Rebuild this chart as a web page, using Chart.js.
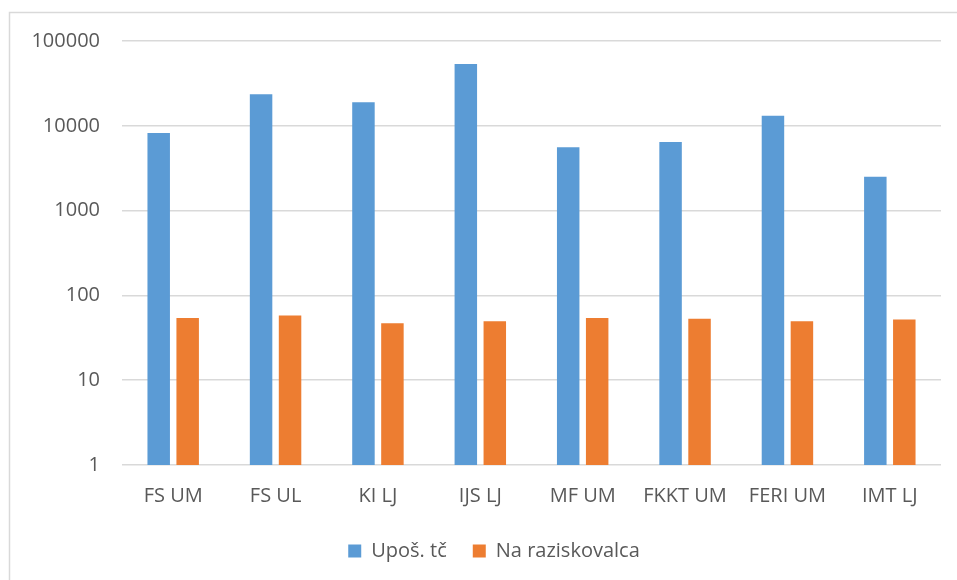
<!DOCTYPE html>
<html>
<head>
<meta charset="utf-8">
<script src="https://cdn.jsdelivr.net/npm/chart.js@4/dist/chart.umd.min.js"></script>
<style>
  html, body { margin: 0; padding: 0; background: #fff; }
  #wrap { width: 957px; height: 580px; position: relative; }
</style>
</head>
<body>
<div id="wrap"><canvas id="chart"></canvas></div>
<script>
var labels = ['FS UM', 'FS UL', 'KI LJ', 'IJS LJ', 'MF UM', 'FKKT UM', 'FERI UM', 'IMT LJ'];
var uposTc = [8200, 23600, 19000, 53500, 5600, 6450, 13100, 2500];
var naRaziskovalca = [54, 58, 47, 49.5, 54, 53, 49.5, 52];
var yTicks = [1, 10, 100, 1000, 10000, 100000];

var textColor = '#595959';
var gridColor = '#d9d9d9';
var fontFamily = '"Open Sans", "Liberation Sans", sans-serif';

// outer frame of the chart (only top and left edges are in view)
var framePlugin = {
	id: 'frame',
	beforeDraw: function (chart) {
		var c = chart.ctx;
		c.save();
		c.fillStyle = '#fff';
		c.fillRect(0, 0, chart.width, chart.height);
		c.strokeStyle = gridColor;
		c.lineWidth = 1.5;
		c.beginPath();
		c.moveTo(9.5, chart.height);
		c.lineTo(9.5, 12.5);
		c.lineTo(chart.width, 12.5);
		c.stroke();
		c.restore();
	},
	// legend is centred a bit right of the canvas middle, like the original
	afterLayout: function (chart) {
		chart.legend.left = 47;
	}
};

var ctx = document.getElementById('chart').getContext('2d');
var chart = new Chart(ctx, {
	type: 'bar',
	data: {
		labels: labels,
		datasets: [
			{
				label: 'Upoš. tč',
				data: uposTc,
				backgroundColor: '#5b9bd5',
				borderWidth: 0
			},
			{
				label: 'Na raziskovalca',
				data: naRaziskovalca,
				backgroundColor: '#ed7d31',
				borderWidth: 0
			}
		]
	},
	plugins: [framePlugin],
	options: {
		responsive: true,
		maintainAspectRatio: false,
		animation: false,
		devicePixelRatio: 1,
		datasets: {
			bar: { categoryPercentage: 0.566, barPercentage: 0.776 }
		},
		layout: {
			padding: { left: 0, right: 16, top: 41, bottom: 9 }
		},
		plugins: {
			tooltip: { enabled: false },
			legend: {
				position: 'bottom',
				labels: {
					color: textColor,
					font: { family: fontFamily, size: 20 },
					boxWidth: 13,
					boxHeight: 13,
					padding: 26
				}
			}
		},
		scales: {
			x: {
				grid: { display: false, drawTicks: false },
				border: { display: false },
				ticks: {
					color: textColor,
					font: { family: fontFamily, size: 20 },
					padding: 19,
					maxRotation: 0
				},
				afterFit: function (scale) { scale.height = 50; }
			},
			y: {
				type: 'logarithmic',
				min: 1,
				max: 100000,
				grid: { color: gridColor, lineWidth: 1.5, drawTicks: false },
				border: { display: false },
				ticks: {
					color: textColor,
					font: { family: fontFamily, size: 20 },
					padding: 22,
					callback: function (v) { return String(v); }
				},
				afterBuildTicks: function (scale) {
					scale.ticks = yTicks.map(function (v) { return { value: v, major: true }; });
				},
				afterFit: function (scale) { scale.width = 122; }
			}
		}
	}
});
</script>
</body>
</html>
